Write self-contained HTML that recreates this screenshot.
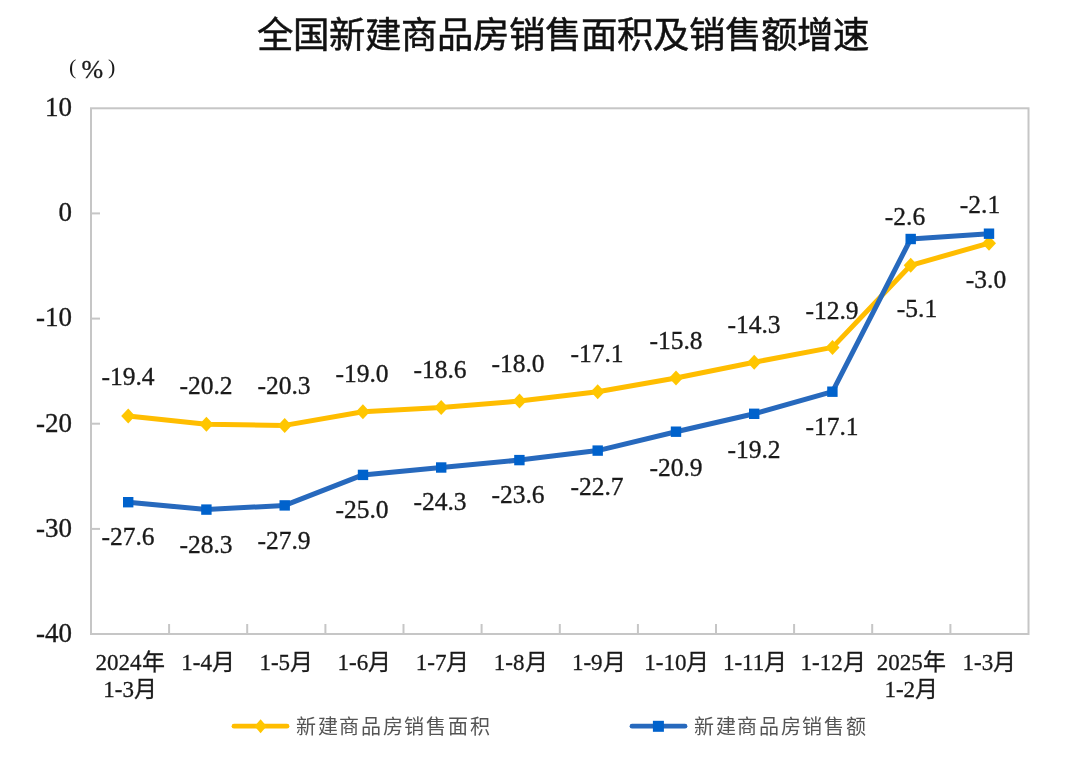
<!DOCTYPE html>
<html lang="zh-CN"><head><meta charset="utf-8"><style>
html,body{margin:0;padding:0;background:#fff;width:1080px;height:784px;overflow:hidden}
svg{display:block;filter:blur(0.55px)}
.n{font-family:"Liberation Serif",serif;font-size:25.5px;fill:#1a1a1a;stroke:#1a1a1a;stroke-width:0.35px}
.ax{font-family:"Liberation Serif",serif;font-size:27px;fill:#1a1a1a;stroke:#1a1a1a;stroke-width:0.35px}
.n2{font-family:"Liberation Serif",serif;font-size:26px;fill:#1a1a1a;stroke:#1a1a1a;stroke-width:0.3px}
.u{font-family:"Liberation Serif",serif;font-size:22px;fill:#1a1a1a}
.c{font-family:"Liberation Serif",serif;font-size:23px;fill:#1a1a1a;stroke:#1a1a1a;stroke-width:0.3px}
.t{font-family:"Liberation Sans",sans-serif;font-size:36.4px;fill:#111;stroke:#111;stroke-width:0.5px}
.lg{font-family:"Liberation Serif",serif;font-size:20px;fill:#555;letter-spacing:1.7px}
</style></head><body>
<svg width="1080" height="784" viewBox="0 0 1080 784">
<rect x="91.0" y="108.3" width="937.5" height="525.7" fill="none" stroke="#c6c6c6" stroke-width="2"/>
<line x1="91.0" y1="213.4" x2="100.0" y2="213.4" stroke="#c6c6c6" stroke-width="2"/>
<line x1="91.0" y1="318.6" x2="100.0" y2="318.6" stroke="#c6c6c6" stroke-width="2"/>
<line x1="91.0" y1="423.7" x2="100.0" y2="423.7" stroke="#c6c6c6" stroke-width="2"/>
<line x1="91.0" y1="528.9" x2="100.0" y2="528.9" stroke="#c6c6c6" stroke-width="2"/>
<line x1="169.1" y1="624.0" x2="169.1" y2="634.0" stroke="#c6c6c6" stroke-width="2"/>
<line x1="247.2" y1="624.0" x2="247.2" y2="634.0" stroke="#c6c6c6" stroke-width="2"/>
<line x1="325.4" y1="624.0" x2="325.4" y2="634.0" stroke="#c6c6c6" stroke-width="2"/>
<line x1="403.5" y1="624.0" x2="403.5" y2="634.0" stroke="#c6c6c6" stroke-width="2"/>
<line x1="481.6" y1="624.0" x2="481.6" y2="634.0" stroke="#c6c6c6" stroke-width="2"/>
<line x1="559.8" y1="624.0" x2="559.8" y2="634.0" stroke="#c6c6c6" stroke-width="2"/>
<line x1="637.9" y1="624.0" x2="637.9" y2="634.0" stroke="#c6c6c6" stroke-width="2"/>
<line x1="716.0" y1="624.0" x2="716.0" y2="634.0" stroke="#c6c6c6" stroke-width="2"/>
<line x1="794.1" y1="624.0" x2="794.1" y2="634.0" stroke="#c6c6c6" stroke-width="2"/>
<line x1="872.2" y1="624.0" x2="872.2" y2="634.0" stroke="#c6c6c6" stroke-width="2"/>
<line x1="950.4" y1="624.0" x2="950.4" y2="634.0" stroke="#c6c6c6" stroke-width="2"/>
<text x="72" y="116.1" text-anchor="end" class="ax">10</text>
<text x="72" y="221.2" text-anchor="end" class="ax">0</text>
<text x="72" y="326.4" text-anchor="end" class="ax">-10</text>
<text x="72" y="431.5" text-anchor="end" class="ax">-20</text>
<text x="72" y="536.7" text-anchor="end" class="ax">-30</text>
<text x="72" y="641.8" text-anchor="end" class="ax">-40</text>
<text x="130.1" y="670" text-anchor="middle" class="c">2024年</text>
<text x="130.1" y="697" text-anchor="middle" class="c">1-3月</text>
<text x="208.2" y="670" text-anchor="middle" class="c">1-4月</text>
<text x="286.3" y="670" text-anchor="middle" class="c">1-5月</text>
<text x="364.4" y="670" text-anchor="middle" class="c">1-6月</text>
<text x="442.6" y="670" text-anchor="middle" class="c">1-7月</text>
<text x="520.7" y="670" text-anchor="middle" class="c">1-8月</text>
<text x="598.8" y="670" text-anchor="middle" class="c">1-9月</text>
<text x="676.9" y="670" text-anchor="middle" class="c">1-10月</text>
<text x="755.1" y="670" text-anchor="middle" class="c">1-11月</text>
<text x="833.2" y="670" text-anchor="middle" class="c">1-12月</text>
<text x="911.3" y="670" text-anchor="middle" class="c">2025年</text>
<text x="911.3" y="697" text-anchor="middle" class="c">1-2月</text>
<text x="989.4" y="670" text-anchor="middle" class="c">1-3月</text>
<polyline points="128.2,415.9 206.4,424.3 284.7,425.4 362.9,411.7 441.2,407.5 519.5,401.1 597.7,391.7 676.0,378.0 754.2,362.2 832.5,347.4 910.7,265.3 989.0,243.2" fill="none" stroke="#ffbd00" stroke-width="5" stroke-linejoin="round" stroke-linecap="round"/>
<polyline points="128.2,502.2 206.4,509.6 284.7,505.4 362.9,474.9 441.2,467.5 519.5,460.1 597.7,450.6 676.0,431.7 754.2,413.8 832.5,391.7 910.7,239.0 989.0,233.7" fill="none" stroke="#2769bd" stroke-width="5" stroke-linejoin="round" stroke-linecap="round"/>
<path d="M128.2,408.4L135.2,415.9L128.2,423.4L121.2,415.9Z" fill="#ffc600"/>
<path d="M206.4,416.8L213.4,424.3L206.4,431.8L199.4,424.3Z" fill="#ffc600"/>
<path d="M284.7,417.9L291.7,425.4L284.7,432.9L277.7,425.4Z" fill="#ffc600"/>
<path d="M362.9,404.2L369.9,411.7L362.9,419.2L355.9,411.7Z" fill="#ffc600"/>
<path d="M441.2,400.0L448.2,407.5L441.2,415.0L434.2,407.5Z" fill="#ffc600"/>
<path d="M519.5,393.6L526.5,401.1L519.5,408.6L512.5,401.1Z" fill="#ffc600"/>
<path d="M597.7,384.2L604.7,391.7L597.7,399.2L590.7,391.7Z" fill="#ffc600"/>
<path d="M676.0,370.5L683.0,378.0L676.0,385.5L669.0,378.0Z" fill="#ffc600"/>
<path d="M754.2,354.7L761.2,362.2L754.2,369.7L747.2,362.2Z" fill="#ffc600"/>
<path d="M832.5,339.9L839.5,347.4L832.5,354.9L825.5,347.4Z" fill="#ffc600"/>
<path d="M910.7,257.8L917.7,265.3L910.7,272.8L903.7,265.3Z" fill="#ffc600"/>
<path d="M989.0,235.7L996.0,243.2L989.0,250.7L982.0,243.2Z" fill="#ffc600"/>
<rect x="123.0" y="497.0" width="10.4" height="10.4" fill="#0062cc"/>
<rect x="201.2" y="504.4" width="10.4" height="10.4" fill="#0062cc"/>
<rect x="279.5" y="500.2" width="10.4" height="10.4" fill="#0062cc"/>
<rect x="357.8" y="469.7" width="10.4" height="10.4" fill="#0062cc"/>
<rect x="436.0" y="462.3" width="10.4" height="10.4" fill="#0062cc"/>
<rect x="514.2" y="454.9" width="10.4" height="10.4" fill="#0062cc"/>
<rect x="592.5" y="445.4" width="10.4" height="10.4" fill="#0062cc"/>
<rect x="670.8" y="426.5" width="10.4" height="10.4" fill="#0062cc"/>
<rect x="749.0" y="408.6" width="10.4" height="10.4" fill="#0062cc"/>
<rect x="827.2" y="386.5" width="10.4" height="10.4" fill="#0062cc"/>
<rect x="905.5" y="233.8" width="10.4" height="10.4" fill="#0062cc"/>
<rect x="983.8" y="228.5" width="10.4" height="10.4" fill="#0062cc"/>
<text x="128" y="385" text-anchor="middle" class="n">-19.4</text>
<text x="206" y="394" text-anchor="middle" class="n">-20.2</text>
<text x="284" y="394" text-anchor="middle" class="n">-20.3</text>
<text x="362" y="382" text-anchor="middle" class="n">-19.0</text>
<text x="440" y="378" text-anchor="middle" class="n">-18.6</text>
<text x="518" y="372" text-anchor="middle" class="n">-18.0</text>
<text x="597" y="362" text-anchor="middle" class="n">-17.1</text>
<text x="676" y="349" text-anchor="middle" class="n">-15.8</text>
<text x="754" y="333" text-anchor="middle" class="n">-14.3</text>
<text x="832" y="319" text-anchor="middle" class="n">-12.9</text>
<text x="917" y="317" text-anchor="middle" class="n">-5.1</text>
<text x="986" y="288" text-anchor="middle" class="n">-3.0</text>
<text x="128" y="545" text-anchor="middle" class="n">-27.6</text>
<text x="206" y="553" text-anchor="middle" class="n">-28.3</text>
<text x="284" y="549" text-anchor="middle" class="n">-27.9</text>
<text x="362" y="518" text-anchor="middle" class="n">-25.0</text>
<text x="440" y="510" text-anchor="middle" class="n">-24.3</text>
<text x="518" y="503" text-anchor="middle" class="n">-23.6</text>
<text x="597" y="495" text-anchor="middle" class="n">-22.7</text>
<text x="676" y="476" text-anchor="middle" class="n">-20.9</text>
<text x="754" y="458" text-anchor="middle" class="n">-19.2</text>
<text x="832" y="434.5" text-anchor="middle" class="n">-17.1</text>
<text x="905" y="225" text-anchor="middle" class="n">-2.6</text>
<text x="980" y="213" text-anchor="middle" class="n">-2.1</text>
<text x="562.6" y="47.7" text-anchor="middle" class="t">全国新建商品房销售面积及销售额增速</text>
<text x="69" y="74" class="u">(</text><text x="81.5" y="77.5" class="n2">%</text><text x="108" y="74" class="u">)</text>
<line x1="234" y1="726.2" x2="287" y2="726.2" stroke="#ffbd00" stroke-width="4.8" stroke-linecap="round"/>
<path d="M260.6,719.2L266.6,726.2L260.6,733.2L254.6,726.2Z" fill="#ffc600"/>
<text x="296" y="734" class="lg">新建商品房销售面积</text>
<line x1="632" y1="726.2" x2="685" y2="726.2" stroke="#2769bd" stroke-width="4.8" stroke-linecap="round"/>
<rect x="652.9" y="720.8" width="11.0" height="11.0" fill="#0062cc"/>
<text x="694" y="734" class="lg">新建商品房销售额</text>
</svg>
</body></html>
